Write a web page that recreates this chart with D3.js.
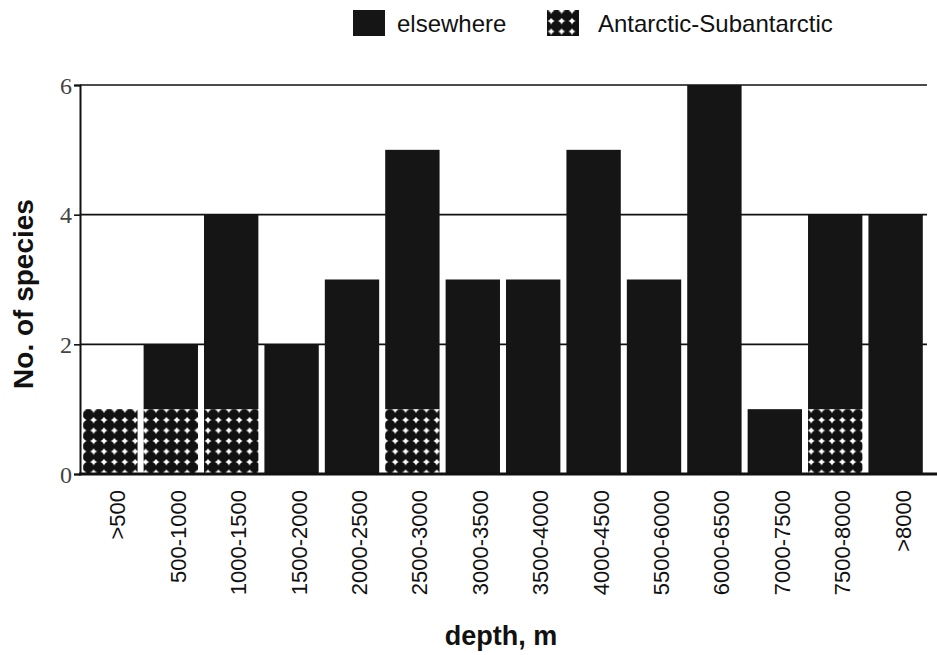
<!DOCTYPE html>
<html lang="en">
<head>
  <meta charset="utf-8" />
  <title>Species by depth</title>
  <style>
    html,body{margin:0;background:#fff;}
    svg{display:block;}
  </style>
</head>
<body>
<svg id="chart" width="937" height="655"></svg>
<script src="https://d3js.org/d3.v7.min.js"></script>
<script>
  // ---- data ----
  const depths = [">500","500-1000","1000-1500","1500-2000","2000-2500","2500-3000","3000-3500",
                  "3500-4000","4000-4500","5500-6000","6000-6500","7000-7500","7500-8000",">8000"];
  const antarctic = [1,1,1,0,0,1,0,0,0,0,0,0,1,0];
  const elsewhere = [0,1,3,2,3,4,3,3,5,3,6,1,3,4];
  const yTicks = [0,2,4,6];

  const SANS = '"Liberation Sans",Arial,sans-serif';
  const SERIF = '"Liberation Serif","Times New Roman",serif';
  const svg = d3.select('#chart');

  const x = d3.scaleBand().domain(depths).range([82,924]).paddingInner(0.1).paddingOuter(0.02);
  const y = d3.scaleLinear().domain([0,6]).range([474,85]);

  // pattern: touching black dots leaving white diamond gaps
  const defs = svg.append('defs');
  const pat = defs.append('pattern').attr('id','dots').attr('patternUnits','userSpaceOnUse')
    .attr('width',10.4).attr('height',10.5).attr('x',0).attr('y',0);
  pat.append('rect').attr('width',10.4).attr('height',10.5).attr('fill','#fff');
  pat.append('circle').attr('cx',5.2).attr('cy',5.25).attr('r',5.45).attr('fill','#111');

  // gridlines
  svg.append('g').selectAll('line').data(yTicks.filter(d=>d>0)).join('line')
    .attr('x1',80).attr('x2',927).attr('y1',d=>y(d)).attr('y2',d=>y(d))
    .attr('stroke','#111').attr('stroke-width',1.6);

  // stacked bars
  const rows = depths.map((d,i)=>({depth:d,a:antarctic[i],e:elsewhere[i]}));
  const stack = d3.stack().keys(['a','e'])(rows);
  const fills = {a:'url(#dots)', e:'#151515'};
  svg.append('g').selectAll('g').data(stack).join('g')
    .attr('fill',s=>fills[s.key])
    .selectAll('rect').data(s=>s).join('rect')
    .attr('x',d=>x(d.data.depth)).attr('width',x.bandwidth())
    .attr('y',d=>y(d[1])).attr('height',d=>y(d[0])-y(d[1]));

  // y axis
  const yAxis = svg.append('g').attr('transform','translate(80,0)')
    .call(d3.axisLeft(y).tickValues(yTicks).tickSize(6).tickFormat(d3.format('d')));
  yAxis.select('.domain').attr('stroke','#111').attr('stroke-width',2);
  yAxis.selectAll('.tick line').attr('stroke','#111').attr('stroke-width',1.6);
  yAxis.selectAll('.tick text').attr('x',-8).attr('dy','0.34em')
    .attr('font-size',24).attr('font-family',SERIF).attr('fill','#444');

  // baseline
  svg.append('line').attr('x1',79).attr('x2',937).attr('y1',y(0)).attr('y2',y(0))
    .attr('stroke','#111').attr('stroke-width',2.8);

  // x labels
  svg.append('g').selectAll('text').data(depths).join('text')
    .attr('transform',d=>`translate(${x(d)+x.bandwidth()/2+15},490) rotate(-90)`)
    .attr('text-anchor','end')
    .attr('font-family',SANS).attr('font-size',22).attr('fill','#111')
    .text(d=>d);

  // axis titles
  svg.append('text').attr('text-anchor','middle')
    .attr('font-family',SANS).attr('font-size',28).attr('font-weight','bold').attr('fill','#111')
    .attr('transform','translate(33,294) rotate(-90)').text('No. of species');
  svg.append('text').attr('text-anchor','middle')
    .attr('font-family',SANS).attr('font-size',27).attr('font-weight','bold').attr('fill','#111')
    .attr('x',501).attr('y',645).text('depth, m');

  // legend
  const legend = [{label:'elsewhere',fill:'#151515',x:353,tx:397},
                  {label:'Antarctic-Subantarctic',fill:'url(#dots)',x:547,tx:598}];
  const lg = svg.append('g').selectAll('g').data(legend).join('g');
  lg.append('rect').attr('x',d=>d.x).attr('y',10).attr('width',32).attr('height',26).attr('fill',d=>d.fill);
  lg.append('text').attr('x',d=>d.tx).attr('y',32)
    .attr('font-family',SANS).attr('font-size',24).attr('fill','#111')
    .text(d=>d.label);
</script>
</body>
</html>
